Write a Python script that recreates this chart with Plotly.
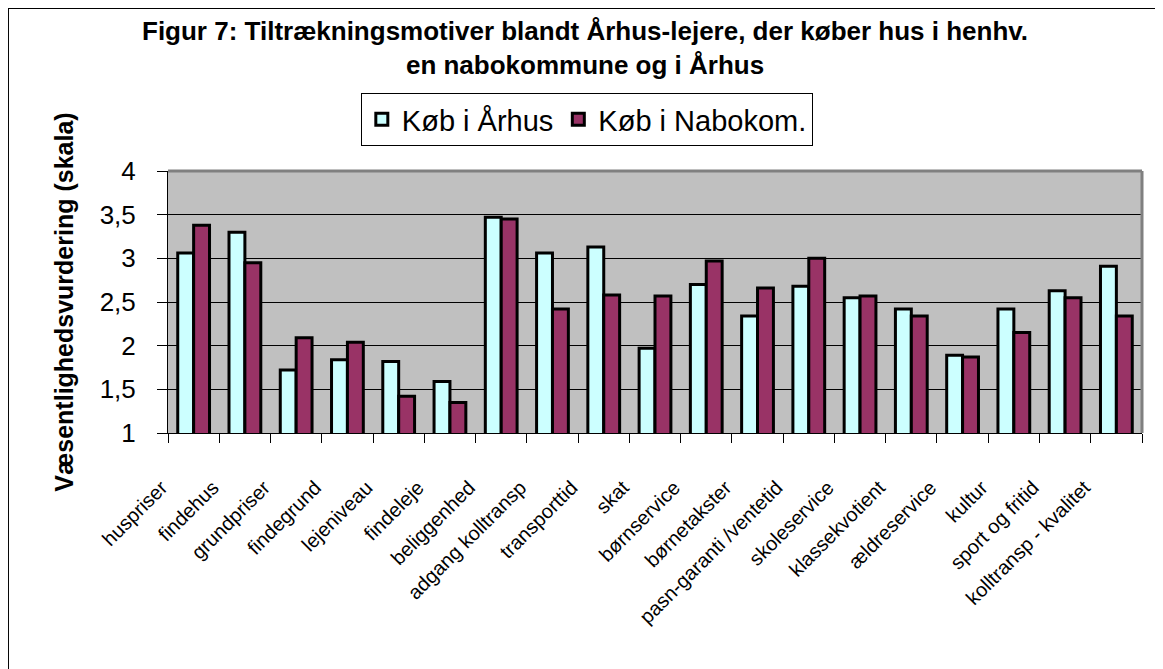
import plotly.graph_objects as go

# categories and values (scale 1-4)
categories = [
    "huspriser", "findehus", "grundpriser", "findegrund", "lejeniveau",
    "findeleje", "beliggenhed", "adgang kolltransp", "transporttid", "skat",
    "børnservice", "børnetakster", "pasn-garanti /ventetid", "skoleservice",
    "klassekvotient", "ældreservice", "kultur", "sport og fritid",
    "kolltransp - kvalitet",
]
koeb_aarhus = [3.06, 3.30, 1.72, 1.84, 1.82, 1.59, 3.47, 3.06, 3.13, 1.97,
               2.70, 2.34, 2.68, 2.55, 2.42, 1.89, 2.42, 2.63, 2.91]
koeb_nabokom = [3.38, 2.95, 2.09, 2.04, 1.42, 1.35, 3.45, 2.42, 2.58, 2.57,
                2.97, 2.66, 3.00, 2.57, 2.34, 1.87, 2.15, 2.55, 2.34]
y_ticks = [1, 1.5, 2, 2.5, 3, 3.5, 4]

FONT = "Arial, Liberation Sans, sans-serif"

fig = go.Figure()
fig.add_trace(go.Bar(
    x=categories, y=koeb_aarhus, name="Køb i Århus",
    marker=dict(color="#CCFFFF", line=dict(color="black", width=3)),
))
fig.add_trace(go.Bar(
    x=categories, y=koeb_nabokom, name="Køb i Nabokom.",
    marker=dict(color="#993366", line=dict(color="black", width=3)),
))

# page body has an 8px margin, so the figure is 8px smaller than the window
fig.update_layout(
    width=1155, height=661,
    margin=dict(l=160, r=21, t=163, b=236),
    paper_bgcolor="white",
    plot_bgcolor="#C0C0C0",
    separators=",.",
    barmode="group", bargap=0.38, bargroupgap=0,
    font=dict(family=FONT, color="black"),
    legend=dict(
        orientation="h", x=0.43, xanchor="center", y=1.298, yanchor="top",
        font=dict(size=29, family=FONT),
        bordercolor="black", borderwidth=1, bgcolor="white",
        itemwidth=30, traceorder="normal",
    ),
    showlegend=True,
)

fig.add_annotation(
    text="<b>Figur 7: Tiltrækningsmotiver blandt Århus-lejere, der køber hus i henhv.<br>en nabokommune og i Århus</b>",
    xref="paper", yref="paper", x=0.428, y=1.6, xanchor="center", yanchor="top",
    showarrow=False, font=dict(size=26, family=FONT),
)

fig.update_yaxes(
    range=[1, 4], tickvals=y_ticks,
    showgrid=True, gridcolor="black", gridwidth=1,
    showline=True, linecolor="black", linewidth=1,
    ticks="outside", ticklen=10, tickcolor="black",
    tickfont=dict(size=26, family=FONT), ticklabelstandoff=16,
    zeroline=False,
    title=dict(text="<b>Væsentlighedsvurdering (skala)</b>",
               font=dict(size=25, family=FONT), standoff=18),
)
fig.update_xaxes(
    showline=True, linecolor="black", linewidth=1,
    ticks="outside", ticklen=9, tickcolor="black", tickson="boundaries",
    tickangle=-45, tickfont=dict(size=20, family=FONT),
    ticklabelstandoff=34, ticklabelshift=-32,
    showgrid=False,
)

# plot area frame (grey top/right like the original) and outer chart border
fig.add_shape(type="line", xref="paper", yref="paper", x0=0, x1=1, y0=1, y1=1,
              line=dict(color="#808080", width=3))
fig.add_shape(type="line", xref="paper", yref="paper", x0=1, x1=1, y0=0, y1=1,
              line=dict(color="#808080", width=3))
fig.add_shape(type="rect", xref="paper", yref="paper",
              x0=-0.1643, x1=1.05, y0=-1.0, y1=1.622,
              line=dict(color="black", width=2), layer="below")

fig.write_html("out.html")
